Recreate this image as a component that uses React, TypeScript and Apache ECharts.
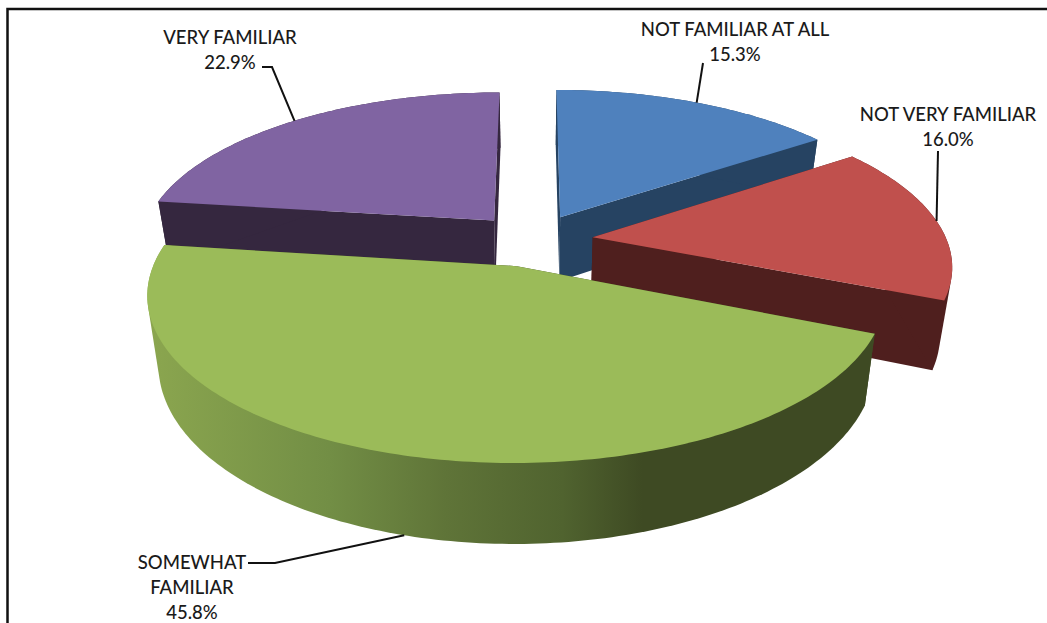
import React, { useEffect, useRef } from "react";
import * as echarts from "echarts";

// Survey answers, clockwise from twelve o'clock.
const categories = ["NOT FAMILIAR AT ALL", "NOT VERY FAMILIAR", "SOMEWHAT\nFAMILIAR", "VERY FAMILIAR"];
const shares = [15.3, 16.0, 45.8, 22.9];
const topColors = ["#4f81bd", "#c0504d", "#9bbb59", "#8064a2"];
const wallColors = ["#264362", "#4f1f1e", "#3e4a23", "#35273f"];

// Painter's order: far slices first, so nearer walls cover them.
const paintOrder = [3, 0, 1, 2];

// Where each label block is centred and where its leader line ends.
const labelCentres = [[735, 41], [948, 126], [192, 587], [230, 49]];
const leaderEnds = [
  [[703, 63]],
  [[938, 151]],
  [[275, 563], [248, 563]],
  [[272, 67], [262, 67]],
];

const WIDTH = 1047;
const HEIGHT = 623;
const CX = 533;
const CY = 240;
const RX = 354;
const RY = 155;
const PERSPECTIVE = 0.164;
const EXPLODE = 0.17;
const THICKNESS = 65.5;
const BASE_SHRINK = 0.971;
const STEP = Math.PI / 180;

type Pt = [number, number];

const total = shares.reduce((a, b) => a + b, 0);

function sliceAngles(i: number): [number, number] {
  const before = shares.slice(0, i).reduce((a, b) => a + b, 0);
  return [(before / total) * 2 * Math.PI, ((before + shares[i]) / total) * 2 * Math.PI];
}

// Ground-plane point to screen, either on the top face or on the base.
function project(x: number, y: number, onBase = false): Pt {
  const s = 1 / (1 - PERSPECTIVE * y);
  const sx = RX * x * s;
  const sy = CY + RY * y * s;
  return onBase ? [CX + sx * BASE_SHRINK, sy + THICKNESS * s] : [CX + sx, sy];
}

function sliceOffset(i: number): Pt {
  const [a0, a1] = sliceAngles(i);
  const mid = (a0 + a1) / 2;
  return [Math.sin(mid) * EXPLODE, -Math.cos(mid) * EXPLODE];
}

function rimPoint(i: number, angle: number, onBase = false): Pt {
  const [ox, oy] = sliceOffset(i);
  return project(ox + Math.sin(angle), oy - Math.cos(angle), onBase);
}

function rim(i: number, onBase = false): Pt[] {
  const [a0, a1] = sliceAngles(i);
  const n = Math.ceil((a1 - a0) / STEP);
  const pts: Pt[] = [];
  for (let k = 0; k <= n; k++) pts.push(rimPoint(i, a0 + ((a1 - a0) * k) / n, onBase));
  return pts;
}

// Monotone-chain hull: the silhouette swept between the top rim and the base rim.
function convexHull(points: Pt[]): Pt[] {
  const sorted = points.slice().sort((a, b) => a[0] - b[0] || a[1] - b[1]);
  const cross = (o: Pt, a: Pt, b: Pt) => (a[0] - o[0]) * (b[1] - o[1]) - (a[1] - o[1]) * (b[0] - o[0]);
  const chain = (list: Pt[]) => {
    const out: Pt[] = [];
    for (const p of list) {
      while (out.length >= 2 && cross(out[out.length - 2], out[out.length - 1], p) <= 0) out.pop();
      out.push(p);
    }
    out.pop();
    return out;
  };
  return [...chain(sorted), ...chain(sorted.slice().reverse())];
}

// The front wall fades from lit green on the left to shadow on the right.
const frontWallFill = () =>
  new echarts.graphic.LinearGradient(
    148,
    0,
    875,
    0,
    [
      { offset: 0, color: "#8ba64f" },
      { offset: 0.25, color: "#728e45" },
      { offset: 0.41, color: "#5f7438" },
      { offset: 0.57, color: "#50632f" },
      { offset: 0.68, color: "#3e4a23" },
      { offset: 1, color: "#3e4a23" },
    ],
    true
  );

function renderSlice(_params: any, api: any) {
  const i = api.value(0) as number;
  const [a0, a1] = sliceAngles(i);
  const [ox, oy] = sliceOffset(i);
  const apexTop = project(ox, oy);
  const apexBase = project(ox, oy, true);
  const top = rim(i);
  const base = rim(i, true);

  const poly = (points: Pt[], fill: any) => ({
    type: "polygon",
    shape: { points },
    style: { fill, stroke: "none" },
  });

  const children: any[] = [
    poly([apexTop, top[0], base[0], apexBase], wallColors[i]),
    poly([apexTop, top[top.length - 1], base[base.length - 1], apexBase], wallColors[i]),
    poly(convexHull([...top, ...base]), i === 2 ? frontWallFill() : wallColors[i]),
    poly([apexTop, ...top], topColors[i]),
  ];

  // The large front slice carries its leader on the base rim.
  const mid = (a0 + a1) / 2;
  const anchor = rimPoint(i, mid, i === 2);
  children.push({
    type: "polyline",
    shape: { points: [anchor, ...leaderEnds[i]] },
    style: { fill: "none", stroke: "#111111", lineWidth: 2 },
  });
  children.push({
    type: "text",
    x: labelCentres[i][0],
    y: labelCentres[i][1],
    style: {
      text: `${categories[i]}\n${shares[i].toFixed(1)}%`,
      align: "center",
      verticalAlign: "middle",
      fontFamily: "Lato",
      fontSize: 18.5,
      fontWeight: 500,
      lineHeight: 25,
      fill: "#1a1a1a",
    },
  });
  return { type: "group", children };
}

export default function App() {
  const ref = useRef<HTMLDivElement>(null);
  useEffect(() => {
    const chart = echarts.init(ref.current!, undefined, { renderer: "svg", width: WIDTH, height: HEIGHT });
    chart.setOption({
      animation: false,
      backgroundColor: "#ffffff",
      graphic: [
        {
          type: "polyline",
          shape: { points: [[7.5, HEIGHT], [7.5, 9], [WIDTH, 9]] },
          style: { fill: "none", stroke: "#111111", lineWidth: 2.5 },
        },
      ],
      series: [
        {
          type: "custom",
          coordinateSystem: "none",
          silent: true,
          renderItem: renderSlice,
          data: paintOrder.map((i) => [i]),
        },
      ],
    });
    return () => chart.dispose();
  }, []);
  return <div ref={ref} style={{ position: "fixed", left: 0, top: 0, width: WIDTH, height: HEIGHT }} />;
}
